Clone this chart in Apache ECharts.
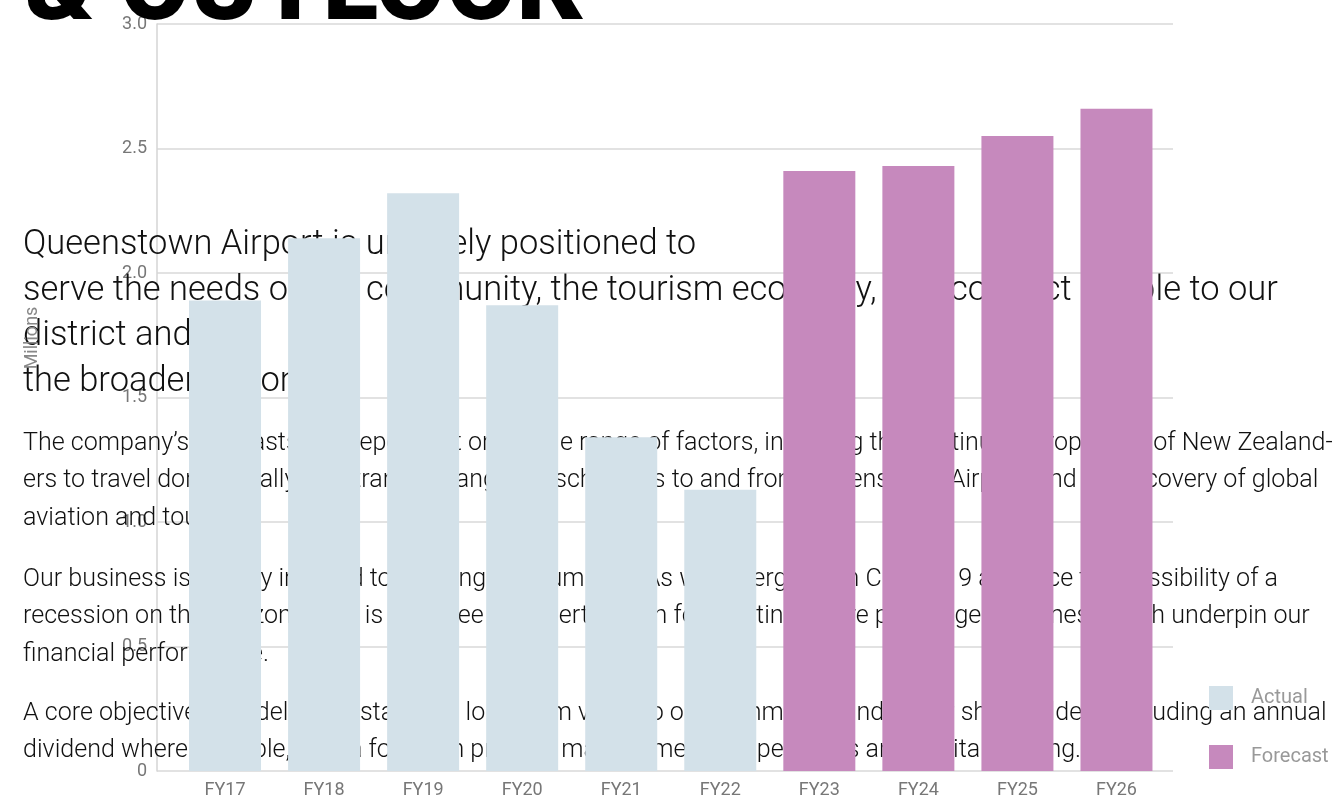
<!DOCTYPE html>
<html>
<head>
<meta charset="utf-8">
<script src="https://cdn.jsdelivr.net/npm/echarts@6/dist/echarts.min.js"></script>
<style>
html,body{margin:0;padding:0;background:#fff;}
#chart{width:1339px;height:800px;}
</style>
</head>
<body>
<div id="chart"></div>
<script>
const categories = ['FY17','FY18','FY19','FY20','FY21','FY22','FY23','FY24','FY25','FY26'];
const actual   = [1.89, 2.14, 2.32, 1.87, 1.34, 1.13, null, null, null, null];
const forecast = [null, null, null, null, null, null, 2.41, 2.43, 2.55, 2.66];
const yMin = 0, yMax = 3, yStep = 0.5;

const heading = '& OUTLOOK';
const introLines = [
  'Queenstown Airport is uniquely positioned to',
  'serve the needs of our community, the tourism economy, and connect people to our',
  'district and',
  'the broader region.'
];
const bodyParas = [
  [
    'The company\u2019s forecasts are dependent on a wide range of factors, including the continuing propensity of New Zealand-',
    'ers to travel domestically, and transit changes in schedules to and from Queenstown Airport, and the recovery of global',
    'aviation and tourism.'
  ],
  [
    'Our business is heavily indexed to growing our numbers. As we emerge from COVID-19 and face the possibility of a',
    'recession on the horizon, there is a degree of uncertainty in forecasting future passenger volumes, which underpin our',
    'financial performance.'
  ],
  [
    'A core objective is to deliver sustainable long-term value to our community and to our shareholders, including an annual',
    'dividend where possible, with a focus on prudent management of operations and capital funding.'
  ]
];

const FAMILY = 'Roboto';
function fitSize(text, weight, target) {
  const ctx = document.createElement('canvas').getContext('2d');
  ctx.font = weight + ' 100px ' + FAMILY;
  return 100 * target / ctx.measureText(text).width;
}
const introSize = fitSize(introLines[1], 300, 1255);
const bodySize = fitSize(bodyParas[0][0], 300, 1310);
const headSize = fitSize(heading, 900, 557);

const elements = [];
elements.push({
  type: 'text', x: 25, y: 23 - 0.29 * headSize, z: 1,
  style: { text: heading, fontFamily: FAMILY, fontWeight: 900, fontSize: headSize, fill: '#000', verticalAlign: 'middle' }
});
const introY = [245, 291, 336, 382];
introLines.forEach((t, i) => elements.push({
  type: 'text', x: 23, y: introY[i], z: 1,
  style: { text: t, fontFamily: FAMILY, fontWeight: 300, fontSize: introSize, fill: '#111', verticalAlign: 'middle' }
}));
const bodyY = [[444, 481, 519], [580, 617, 655], [714, 751]];
bodyParas.forEach((p, pi) => p.forEach((t, i) => elements.push({
  type: 'text', x: 23, y: bodyY[pi][i], z: 1,
  style: { text: t, fontFamily: FAMILY, fontWeight: 300, fontSize: bodySize, fill: '#111', verticalAlign: 'middle' }
})));
elements.push({
  type: 'text', x: 32, y: 338, z: 1, rotation: Math.PI / 2,
  style: { text: 'Millions', fontFamily: FAMILY, fontSize: 18, fill: '#888', align: 'center', verticalAlign: 'middle' }
});

const chart = echarts.init(document.getElementById('chart'));
chart.setOption({
  animation: false,
  backgroundColor: '#fff',
  textStyle: { fontFamily: FAMILY },
  grid: [
    { left: 157, right: 166, top: 24, bottom: 29 },
    { left: 175.5, right: 173, top: 24, bottom: 29 }
  ],
  legend: {
    data: ['Actual', 'Forecast'],
    orient: 'vertical',
    left: 1209, top: 686,
    icon: 'rect', itemWidth: 24, itemHeight: 24, itemGap: 35,
    padding: 0,
    textStyle: { color: '#999', fontSize: 20, padding: [0, 0, 0, 13] }
  },
  xAxis: [
    { gridIndex: 0, type: 'category', data: categories, show: false },
    {
      gridIndex: 1, type: 'category', data: categories,
      axisLine: { show: false }, axisTick: { show: false },
      axisLabel: { color: '#777', fontSize: 18, margin: 10 }
    }
  ],
  yAxis: [
    {
      gridIndex: 0, type: 'value', min: yMin, max: yMax, interval: yStep,
      axisLine: { show: true, lineStyle: { color: '#d4d4d4', width: 1.5 } },
      axisTick: { show: false },
      splitLine: { lineStyle: { color: '#d8d8d8', width: 1.5 } },
      axisLabel: { color: '#777', fontSize: 18, margin: 10, formatter: v => v === 0 ? '0' : v.toFixed(1) }
    },
    { gridIndex: 1, type: 'value', min: yMin, max: yMax, show: false }
  ],
  series: [
    { name: 'Actual', type: 'bar', xAxisIndex: 1, yAxisIndex: 1, data: actual, barWidth: 72, barGap: '-100%', itemStyle: { color: '#d3e1e9' } },
    { name: 'Forecast', type: 'bar', xAxisIndex: 1, yAxisIndex: 1, data: forecast, barWidth: 72, barGap: '-100%', itemStyle: { color: '#c689bd' } }
  ],
  graphic: { elements: elements }
});
</script>
</body>
</html>
